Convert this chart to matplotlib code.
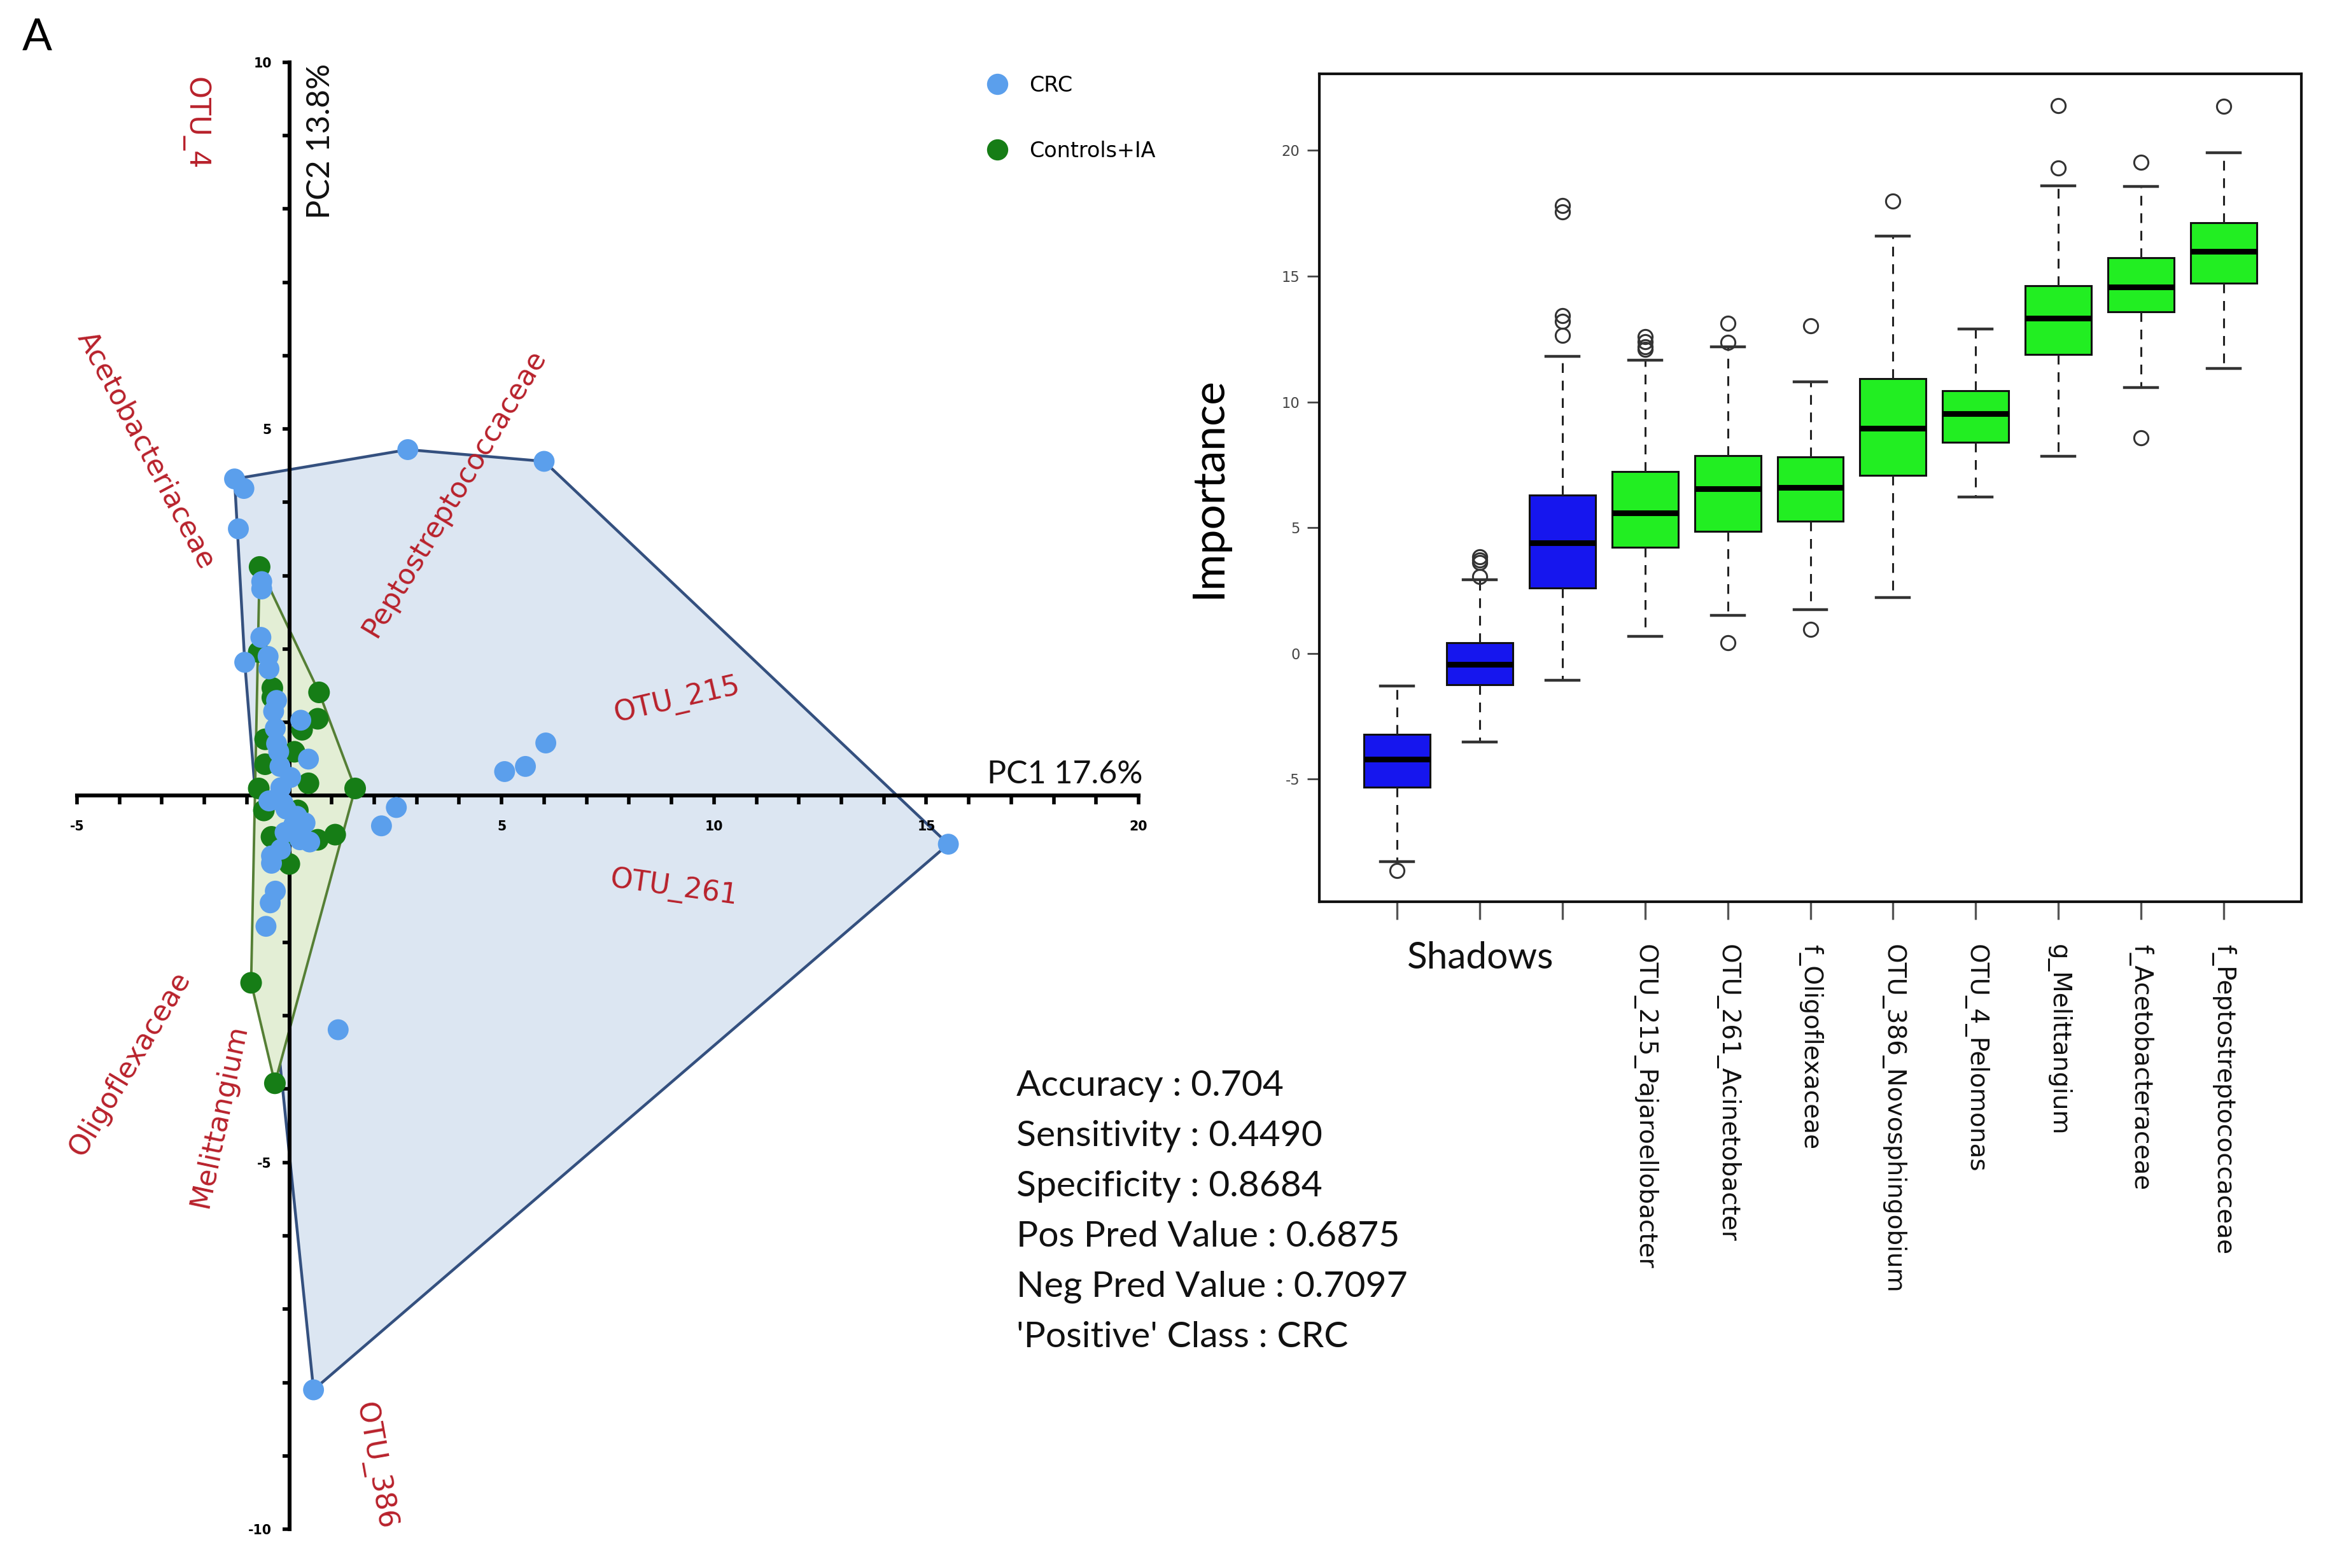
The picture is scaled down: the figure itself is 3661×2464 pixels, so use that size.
import numpy as np
import matplotlib
matplotlib.use("Agg")
import matplotlib.pyplot as plt
from matplotlib import font_manager
from matplotlib.lines import Line2D
from matplotlib.patches import Polygon

# ---------------- PCA data ----------------
crc_pc1 = [2.79, 6.00, -1.29, -1.07, -1.20, -0.65, -0.65, -0.67, -1.05, -0.50, -0.48, 0.27,
           -0.37, -0.33, -0.30, -0.22, -0.20, 0.03, 0.45, 6.04, 5.56, 5.07, 2.52, 2.17,
           15.52, -0.48, -0.33, -0.08, 0.18, 0.37, -0.10, 0.25, 0.48, -0.20, -0.42, -0.42,
           -0.33, -0.45, -0.55, 1.15, 0.57, -0.15, 0.10, -0.25, -0.30]
crc_pc2 = [4.72, 4.56, 4.32, 4.19, 3.64, 2.92, 2.82, 2.16, 1.82, 1.90, 1.73, 1.03,
           1.15, 0.92, 0.71, 0.40, 0.11, 0.25, 0.50, 0.72, 0.40, 0.33, -0.16, -0.41,
           -0.66, -0.07, -0.05, -0.18, -0.28, -0.37, -0.50, -0.60, -0.63, -0.73, -0.82, -0.92,
           -1.30, -1.46, -1.78, -3.19, -8.10, -0.10, -0.40, 0.60, 1.30]

ctrl_pc1 = [-0.70, -0.72, -0.40, -0.40, 0.70, 0.67, -0.57, -0.57, 0.12, 0.45, 1.55, 1.08,
            0.67, -0.42, 0.00, -0.90, -0.34, -0.72, 0.20, -0.60, 0.30, -0.20]
ctrl_pc2 = [3.12, 1.96, 1.47, 1.34, 1.41, 1.05, 0.77, 0.43, 0.60, 0.17, 0.10, -0.53,
            -0.60, -0.56, -0.93, -2.55, -3.92, 0.10, -0.20, -0.20, 0.90, -0.60]

group_names = ["CRC", "Controls+IA"]
pc1_label = "PC1 17.6%"
pc2_label = "PC2 13.8%"

loading_labels = ["OTU_4", "Acetobacteriaceae", "Peptostreptococcaceae", "OTU_215",
                  "OTU_261", "Oligoflexaceae", "Melittangium", "OTU_386"]
loading_x = [-2.22, -3.37, 3.88, 9.13, 9.06, -3.76, -1.65, 2.02]
loading_y = [9.17, 4.71, 4.13, 1.30, -1.26, -3.65, -4.36, -9.14]
loading_rot = [-90, -62, 59, 13, -8, 59, 78, -80]

# ---------------- Boruta importance data ----------------
feature_labels = ["", "Shadows", "", "OTU_215_Pajaroellobacter", "OTU_261_Acinetobacter",
                  "f_Oligoflexaceae", "OTU_386_Novosphingobium", "OTU_4_Pelomonas",
                  "g_Melittangium", "f_Acetobacteraceae", "f_Peptostreptococcaceae"]
is_shadow = [True, True, True, False, False, False, False, False, False, False, False]
whislo = [-8.28, -3.52, -1.08, 0.68, 1.51, 1.74, 2.21, 6.23, 7.83, 10.56, 11.33]
q1 = [-5.33, -1.24, 2.60, 4.22, 4.85, 5.26, 7.09, 8.40, 11.90, 13.59, 14.72]
med = [-4.22, -0.45, 4.40, 5.58, 6.55, 6.59, 8.96, 9.53, 13.32, 14.56, 15.98]
q3 = [-3.23, 0.41, 6.30, 7.22, 7.86, 7.81, 10.93, 10.45, 14.63, 15.73, 17.13]
whishi = [-1.31, 2.93, 11.80, 11.67, 12.19, 10.79, 16.59, 12.89, 18.60, 18.56, 19.91]
fliers = [[-8.65], [3.05, 3.60, 3.72, 3.84], [12.64, 13.20, 13.43, 17.56, 17.80],
          [12.08, 12.2, 12.4, 12.6], [0.41, 12.37, 13.14], [0.95, 13.02], [17.99], [],
          [19.30, 21.78], [8.58, 19.53], [21.76]]

metrics = ["Accuracy : 0.704", "Sensitivity : 0.4490", "Specificity : 0.8684",
           "Pos Pred Value : 0.6875", "Neg Pred Value : 0.7097", "'Positive' Class : CRC"]

# ---------------- fonts ----------------
avail = {f.name for f in font_manager.fontManager.ttflist}
HAS_NARROW = "Liberation Sans Narrow" in avail
NARROW = ["Liberation Sans Narrow", "DejaVu Sans"] if HAS_NARROW else ["DejaVu Sans"]
nscale = 1.0 if HAS_NARROW else 0.74
HUMAN = ["Lato", "DejaVu Sans"]

W, H = 3661, 2464
DPI = 200
fig = plt.figure(figsize=(W / DPI, H / DPI), dpi=DPI)
fig.patch.set_facecolor("white")

BLUE_PT = "#5B9FEC"
GREEN_PT = "#167D16"
RED_TXT = "#B8212B"


def convex_hull(xs, ys):
    pts = sorted(set(zip(xs, ys)))

    def cross(o, a, b):
        return (a[0] - o[0]) * (b[1] - o[1]) - (a[1] - o[1]) * (b[0] - o[0])

    lower, upper = [], []
    for p in pts:
        while len(lower) >= 2 and cross(lower[-2], lower[-1], p) <= 0:
            lower.pop()
        lower.append(p)
    for p in reversed(pts):
        while len(upper) >= 2 and cross(upper[-2], upper[-1], p) <= 0:
            upper.pop()
        upper.append(p)
    return np.array(lower[:-1] + upper[:-1])


# ================= PCA panel =================
ax = fig.add_axes([121 / W, 1 - 2403 / H, (1789 - 121) / W, (2403 - 98) / H])
ax.set_xlim(-5, 20)
ax.set_ylim(-10, 10)
ax.patch.set_alpha(0)
for s in ["top", "right"]:
    ax.spines[s].set_visible(False)
ax.spines["left"].set_position(("data", 0))
ax.spines["bottom"].set_position(("data", 0))
for s in ["left", "bottom"]:
    ax.spines[s].set_linewidth(2.2)
    ax.spines[s].set_zorder(2.5)

hull_b = convex_hull(crc_pc1, crc_pc2)
hull_g = convex_hull(ctrl_pc1, ctrl_pc2)
ax.add_patch(Polygon(hull_b, closed=True, facecolor="#DCE6F2", edgecolor="#34507F",
                     lw=1.6, zorder=1))
ax.add_patch(Polygon(hull_g, closed=True, facecolor="#E3EED5", edgecolor="#557F35",
                     lw=1.4, zorder=1.5))

ax.scatter(ctrl_pc1, ctrl_pc2, s=150, color=GREEN_PT, edgecolors="none", zorder=3)
ax.scatter(crc_pc1, crc_pc2, s=140, color=BLUE_PT, edgecolors="none", zorder=3.2)

xt = list(range(-5, 21))
ax.set_xticks(xt)
ax.set_xticklabels([str(v) if (v % 5 == 0 and v != 0) else "" for v in xt],
                   fontfamily=NARROW, fontweight="bold", fontsize=10 * nscale)
yt = list(range(-10, 11))
ax.set_yticks(yt)
ax.set_yticklabels([str(v) if (v % 5 == 0 and v != 0) else "" for v in yt],
                   fontfamily=NARROW, fontweight="bold", fontsize=10 * nscale)
ax.tick_params(axis="x", direction="out", length=5, width=2, pad=9)
ax.tick_params(axis="y", direction="out", length=4, width=2, pad=6)

for lab, lx, ly, rot in zip(loading_labels, loading_x, loading_y, loading_rot):
    ax.text(lx, ly, lab, rotation=rot, rotation_mode="anchor", ha="center", va="center",
            color=RED_TXT, fontsize=16, fontfamily="DejaVu Sans", zorder=4)

ax.text(20.1, 0.17, pc1_label, ha="right", va="baseline", fontsize=18,
        fontfamily=HUMAN, color="#111111")
fig.text(504 / W, 1 - 222 / H, pc2_label, rotation=90, ha="center", va="center",
         fontsize=18, fontfamily=HUMAN, color="#111111")

handles = [Line2D([], [], marker="o", ls="none", ms=11, mfc=BLUE_PT, mec=BLUE_PT),
           Line2D([], [], marker="o", ls="none", ms=11, mfc=GREEN_PT, mec=GREEN_PT)]
leg = fig.legend(handles, group_names, loc="upper left",
                 bbox_to_anchor=(1552 / W, 1 - 118 / H), frameon=False,
                 prop={"family": NARROW, "size": 12},
                 labelspacing=2.1, handletextpad=1.05, handlelength=0.9,
                 borderpad=0, borderaxespad=0)

fig.text(35 / W, 1 - 28 / H, "A", ha="left", va="top", fontsize=25, fontfamily=HUMAN)

# metrics text block
for i, line in enumerate(metrics):
    fig.text(1597 / W, 1 - (1722 + 79 * i) / H, line, ha="left", va="baseline",
             fontsize=20.5, fontfamily=HUMAN, color="#111111")

# ================= Boruta boxplot =================
bx = fig.add_axes([2073 / W, 1 - 1417 / H, (3616 - 2073) / W, (1417 - 116) / H])
stats = []
for i in range(len(med)):
    stats.append(dict(whislo=whislo[i], q1=q1[i], med=med[i], q3=q3[i],
                      whishi=whishi[i], fliers=fliers[i]))
pos = np.arange(1, len(med) + 1)
bp = bx.bxp(stats, positions=pos, widths=0.8, patch_artist=True, capwidths=0.4,
            boxprops=dict(edgecolor="#111111", linewidth=1.1),
            medianprops=dict(color="#000000", linewidth=3.2),
            whiskerprops=dict(color="#222222", linestyle=(0, (5, 4)), linewidth=1.1),
            capprops=dict(color="#333333", linewidth=1.6),
            flierprops=dict(marker="o", markerfacecolor="none", markeredgecolor="#333333",
                            markersize=8, markeredgewidth=1.1))
for patch, sh in zip(bp["boxes"], is_shadow):
    patch.set_facecolor("#1616EE" if sh else "#22EE22")

bx.set_xlim(0.06, 11.94)
bx.set_ylim(-9.88, 23.05)
for s in bx.spines.values():
    s.set_linewidth(1.5)
    s.set_color("#111111")
bx.set_yticks([-5, 0, 5, 10, 15, 20])
bx.set_yticklabels(["-5", "0", "5", "10", "15", "20"], fontfamily=NARROW,
                   fontsize=11 * nscale, color="#444444")
bx.tick_params(axis="y", direction="out", length=7, width=1, color="#444444", pad=4)
bx.set_xticks(pos)
tick_txt = ["" if (sh or lab == "") else lab for lab, sh in zip(feature_labels, is_shadow)]
bx.set_xticklabels(tick_txt, rotation=-90, ha="center", va="top",
                   fontfamily=NARROW, fontsize=19 * nscale, color="#111111")
bx.tick_params(axis="x", direction="out", length=10, width=1.2, color="#555555", pad=14)
bx.text(2, -(1506 - 1417) / (1417 - 116), "Shadows", transform=bx.get_xaxis_transform(),
        ha="center", va="center", fontsize=21, fontfamily=HUMAN, color="#111111")
bx.set_ylabel("Importance", fontsize=25, fontfamily=HUMAN, labelpad=30)

fig.savefig("out.png", dpi=DPI, facecolor="white")
